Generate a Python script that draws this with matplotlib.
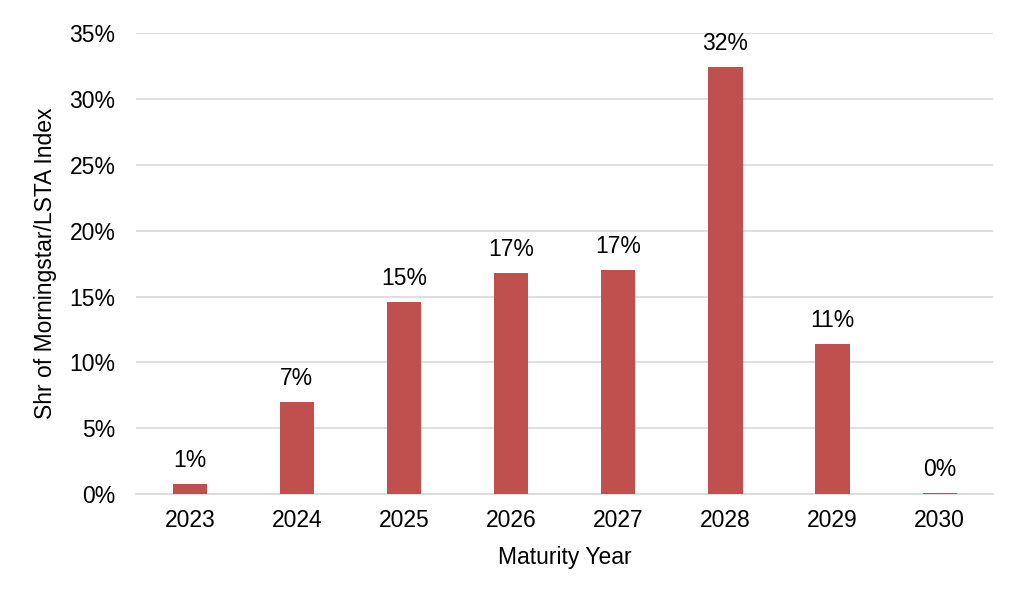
import matplotlib
matplotlib.use("Agg")
import matplotlib.pyplot as plt
from matplotlib.ticker import FuncFormatter, MultipleLocator

years = ["2023", "2024", "2025", "2026", "2027", "2028", "2029", "2030"]
shares = [0.8, 7.0, 14.6, 16.8, 17.0, 32.4, 11.4, 0.1]

plt.rcParams['font.family'] = ['Liberation Sans', 'DejaVu Sans']
FS = 16.5

fig = plt.figure(figsize=(10.24, 6.02), dpi=100)
ax = fig.add_axes([0.133, 0.179, 0.837, 0.766])

x = range(len(years))
ax.bar(x, shares, width=0.32, color="#C0504D", zorder=3)
for xi, v in zip(x, shares):
    ax.annotate(f"{v:.0f}%", (xi, v), xytext=(0, 12.3), textcoords="offset points",
                ha="center", va="baseline", fontsize=FS, color="#000000")

ax.set_xlim(-0.5, len(years) - 0.5)
ax.set_ylim(0, 35)
ax.yaxis.set_major_locator(MultipleLocator(5))
ax.yaxis.set_major_formatter(FuncFormatter(lambda v, p: f"{v:.0f}%"))
ax.set_xticks(list(x))
ax.set_xticklabels(years)
ax.grid(axis="y", color="#D9D9D9", linewidth=1.2, zorder=0)
for s in ["top", "right", "left"]:
    ax.spines[s].set_visible(False)
ax.spines["bottom"].set_color("#D9D9D9")
ax.spines["bottom"].set_linewidth(1.2)
ax.tick_params(axis="both", length=0, labelsize=FS, colors="#000000")
ax.tick_params(axis="x", pad=10.4)
ax.tick_params(axis="y", pad=15)
ax.set_xlabel("Maturity Year", fontsize=FS, labelpad=10)
ax.set_ylabel("Shr of Morningstar/LSTA Index", fontsize=FS, labelpad=8.6)

fig.savefig("out.png", dpi=100)
